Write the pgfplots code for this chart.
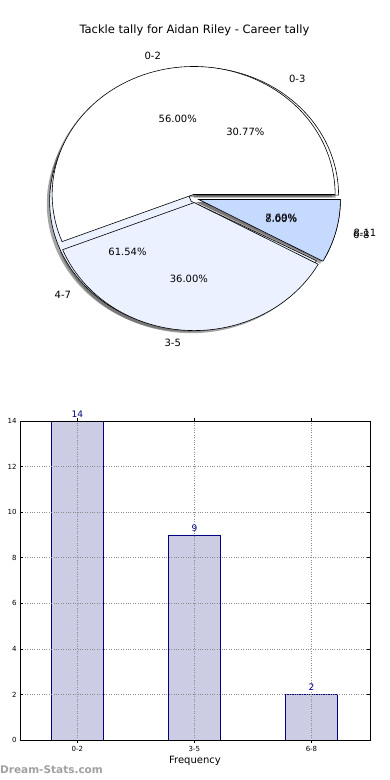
\documentclass[border=0pt]{standalone}
\usepackage{fontspec}
\setmainfont{DejaVu Sans}
\usepackage{pgfplots}
\pgfplotsset{compat=1.18}
\definecolor{pieW}{HTML}{FFFFFF}
\definecolor{pieL}{HTML}{EBF1FF}
\definecolor{pieB}{HTML}{C6D9FF}
\definecolor{barF}{HTML}{CCCCE5}
\definecolor{barE}{HTML}{000080}
\definecolor{wm}{HTML}{A0A0A0}
% slice: center x, center y, start angle, end angle, fill
\newcommand\slice[5]{\addplot[draw=black,line width=0.6pt,fill=#5,domain=#3:#4,samples=90] ({#1+cos(x)},{#2+sin(x)}) -- (axis cs:#1,#2) -- cycle;}
\newcommand\shadowslice[4]{\addplot[draw=none,fill=black!70,fill opacity=0.5,domain=#3:#4,samples=90] ({#1+cos(x)},{#2+sin(x)}) -- (axis cs:#1,#2) -- cycle;}
\begin{document}
\begin{tikzpicture}
\path[use as bounding box] (0pt,0pt) rectangle (390pt,780pt);
\clip (0pt,0pt) rectangle (390pt,780pt);
\node[font=\fontsize{11.5}{14}\selectfont] at (194.5pt,750pt) {Tackle tally for Aidan Riley - Career tally};
% ---------------- pie ----------------
% pie 1: 0-2 = 14, 3-5 = 9, 6-8 = 2 (of 25)  -> 201.6, 129.6, 28.8 degrees
% pie 2: 0-3 = 4, 4-7 = 8, 8-11 = 1 (of 13)  -> 110.77, 221.54, 27.69 degrees
\begin{axis}[at={(0pt,430pt)}, anchor=south west, width=390pt, height=300pt, scale only axis,
  xmin=-1.3746, xmax=1.3816, ymin=-1.1836, ymax=1.1602, hide axis, clip=false,
  every node/.style={font=\fontsize{10}{12}\selectfont}]
% shadows
\shadowslice{-0.0018}{0.0063}{0}{110.77}
\shadowslice{-0.0440}{-0.0412}{110.77}{332.31}
\shadowslice{0.0111}{-0.0277}{332.31}{360}
\shadowslice{-0.0260}{0.0114}{0}{201.6}
\shadowslice{-0.0220}{-0.0519}{201.6}{331.2}
\shadowslice{0.0110}{-0.0280}{331.2}{360}
% pie 2
\slice{0.0182}{0.0263}{0}{110.77}{pieW}
\slice{-0.0240}{-0.0212}{110.77}{332.31}{pieL}
\slice{0.0311}{-0.0077}{332.31}{360}{pieB}
% pie 1
\slice{-0.0060}{0.0314}{0}{201.6}{pieW}
\slice{-0.0020}{-0.0319}{201.6}{331.2}{pieL}
\slice{0.0310}{-0.0080}{331.2}{360}{pieB}
% labels
\node[anchor=east] at (axis cs:-0.2121,1.1119) {0-2};
\node[anchor=east] at (axis cs:-0.0711,-1.1297) {3-5};
\node[anchor=west] at (axis cs:1.0965,-0.2816) {6-8};
\node[anchor=west] at (axis cs:0.6431,0.9316) {0-3};
\node[anchor=east] at (axis cs:-0.8475,-0.7505) {4-7};
\node[anchor=west] at (axis cs:1.0991,-0.2710) {8-11};
\node at (axis cs:-0.1184,0.6208) {56.00\%};
\node at (axis cs:-0.0397,-0.6307) {36.00\%};
\node at (axis cs:0.6122,-0.1572) {8.00\%};
\node at (axis cs:0.3591,0.5201) {30.77\%};
\node at (axis cs:-0.4732,-0.4190) {61.54\%};
\node at (axis cs:0.6136,-0.1513) {7.69\%};
\end{axis}
% ---------------- bars ----------------
\begin{axis}[at={(20pt,40pt)}, anchor=south west, width=350pt, height=319pt, scale only axis,
  xmin=-0.49, xmax=2.5, ymin=0, ymax=14,
  ytick={0,2,...,14}, xtick={0,1,2}, xticklabels={0-2,3-5,6-8},
  grid=major, grid style={dotted, black!45, line width=0.6pt},
  axis on top, tick align=inside, tick pos=both, major tick length=3pt,
  tick style={black, line width=0.5pt},
  axis line style={line width=0.7pt},
  tick label style={font=\fontsize{7}{8}\selectfont},
  yticklabel style={xshift=0pt},
  /pgf/number format/assume math mode=true,
  xlabel={Frequency}, xlabel style={font=\fontsize{10}{12}\selectfont, at={(axis description cs:0.5,0)}, anchor=center, yshift=-21pt},
  ybar, bar width=0.45,
  nodes near coords, nodes near coords style={text=barE, font=\fontsize{9}{11}\selectfont, /pgf/number format/assume math mode=true},
  ]
\addplot[fill=barF, draw=barE, line width=0.7pt] coordinates {(0,14) (1,9) (2,2)};
\end{axis}
\node[rotate=90, anchor=south, font=\fontsize{10}{12}\selectfont] at (2.5pt,199.5pt) {Class Interval};
\node[anchor=west, inner sep=0pt, text=wm, font=\bfseries\fontsize{10.5}{12}\selectfont] at (0pt,10pt) {Dream-Stats.com};
\end{tikzpicture}
\end{document}
